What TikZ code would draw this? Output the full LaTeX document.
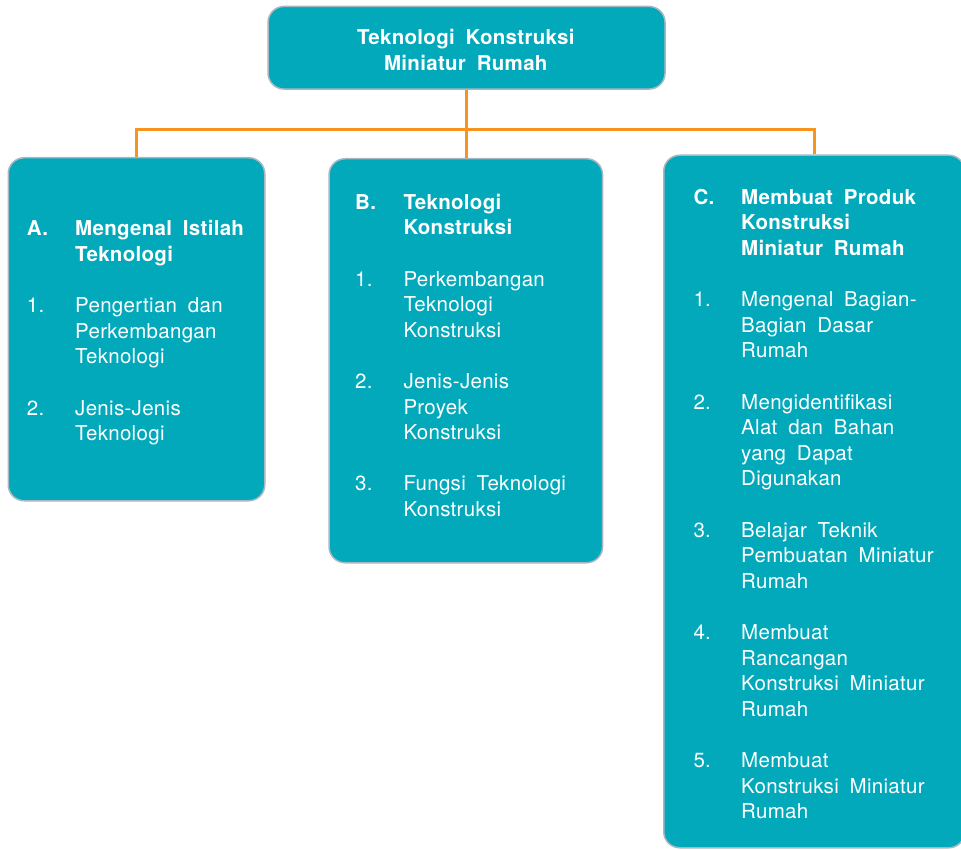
\documentclass[tikz,border=0pt]{standalone}
\usepackage{fontspec}
\setmainfont{TeX Gyre Heros}[LetterSpace=1.5,WordSpace=1.8]
\usepackage{array}
\definecolor{tealbox}{HTML}{02A9BB}
\definecolor{boxline}{HTML}{A9B7C2}
\definecolor{linkor}{HTML}{F7941D}
\begin{document}
\begin{tikzpicture}[x=1pt,y=-1pt,
  box/.style={draw=boxline, line width=1.5pt, fill=tealbox, rounded corners=16pt, anchor=north west, inner sep=0pt},
  conn/.style={draw=linkor, line width=2.6pt},
  txt/.style={text=white, inner sep=0pt, anchor=base west, font=\fontsize{20.5}{25.6}\selectfont}]
\path[use as bounding box] (0,0) rectangle (961,850);
% boxes
\node[box, minimum width=397pt, minimum height=82.6pt] (top) at (267.3,5.7) {};
\node[box, minimum width=256.5pt, minimum height=343pt] (boxA) at (7.5,157) {};
\node[box, minimum width=273.5pt, minimum height=404pt] (boxB) at (328.3,158) {};
\node[box, minimum width=301pt, minimum height=692.5pt] (boxC) at (663,154.5) {};
% connectors
\coordinate (jn) at (465.8,129.3);
\draw[conn] (top.south) -- (top.south |- boxB.north);
\draw[conn] (boxA.north) |- (jn) -| (boxC.north);
% title
\node[txt, anchor=base, font=\fontsize{20.5}{26}\selectfont\bfseries] (title) at (465.8,44.5)
  {\begin{tabular}[t]{@{}c@{}}Teknologi Konstruksi\\Miniatur Rumah\end{tabular}};
% box A text
\node[txt] (txtA) at (26.7,236)
  {\begin{tabular}[t]{@{}p{48.3pt}@{}l@{}}
  \textbf{A.} & \textbf{Mengenal Istilah}\\
   & \textbf{Teknologi}\\
   & \\
  1. & Pengertian dan\\
   & Perkembangan\\
   & Teknologi\\
   & \\
  2. & Jenis-Jenis\\
   & Teknologi
  \end{tabular}};
% box B text
\node[txt] (txtB) at (355,209.3)
  {\begin{tabular}[t]{@{}p{48.3pt}@{}l@{}}
  \textbf{B.} & \textbf{Teknologi}\\
   & \textbf{Konstruksi}\\
   & \\
  1. & Perkembangan\\
   & Teknologi\\
   & Konstruksi\\
   & \\
  2. & Jenis-Jenis\\
   & Proyek\\
   & Konstruksi\\
   & \\
  3. & Fungsi Teknologi\\
   & Konstruksi
  \end{tabular}};
% box C text
\node[txt] (txtC) at (693.3,204.3)
  {\begin{tabular}[t]{@{}p{47.7pt}@{}l@{}}
  \textbf{C.} & \textbf{Membuat Produk}\\
   & \textbf{Konstruksi}\\
   & \textbf{Miniatur Rumah}\\
   & \\
  1. & Mengenal Bagian-\\
   & Bagian Dasar\\
   & Rumah\\
   & \\
  2. & Mengidentifikasi\\
   & Alat dan Bahan\\
   & yang Dapat\\
   & Digunakan\\
   & \\
  3. & Belajar Teknik\\
   & Pembuatan Miniatur\\
   & Rumah\\
   & \\
  4. & Membuat\\
   & Rancangan\\
   & Konstruksi Miniatur\\
   & Rumah\\
   & \\
  5. & Membuat\\
   & Konstruksi Miniatur\\
   & Rumah
  \end{tabular}};
\end{tikzpicture}
\end{document}
